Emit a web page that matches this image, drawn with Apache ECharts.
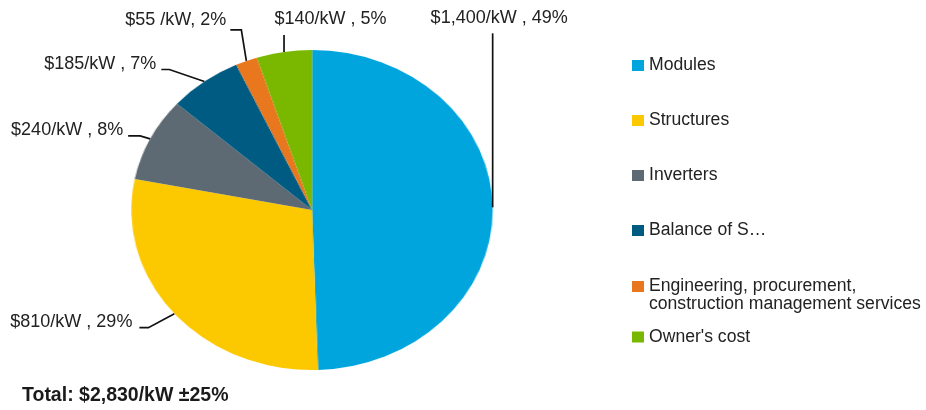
<!DOCTYPE html>
<html>
<head>
<meta charset="utf-8">
<script src="https://cdn.jsdelivr.net/npm/echarts@6/dist/echarts.min.js"></script>
<style>
  html, body { margin: 0; padding: 0; background: #fff; overflow: hidden; }
  #wrap { position: relative; width: 926px; height: 410px; overflow: hidden; }
  /* the pie layer is drawn narrower and stretched horizontally into an ellipse */
  #pieLayer { position: absolute; left: 0; top: 0; width: 820px; height: 410px;
              transform: scaleX(1.129268); transform-origin: 0 0; }
  #textLayer { position: absolute; left: 0; top: 0; width: 926px; height: 410px; }
</style>
</head>
<body>
<div id="wrap">
  <div id="pieLayer"></div>
  <div id="textLayer"></div>
</div>
<script>
// Installed cost breakdown, $/kW
const categories = [
  'Modules',
  'Structures',
  'Inverters',
  'Balance of System',
  'Engineering, procurement, construction management services',
  "Owner's cost"
];
const costPerKw = [1400, 810, 240, 185, 55, 140];
const legendText = [
  'Modules',
  'Structures',
  'Inverters',
  'Balance of S…',
  '\nEngineering, procurement,\nconstruction management services',
  "Owner's cost"
];
const unitText = ['/kW , ', '/kW , ', '/kW , ', '/kW , ', ' /kW, ', '/kW , '];
const sliceColors = ['#00a5de', '#fcc800', '#5d6a73', '#005b82', '#e8771e', '#7ab800'];
const uncertainty = '±25%';

// pie geometry on screen: centre, vertical radius, horizontal stretch
const pieCenter = [312, 210];
const pieRadius = 160;
const stretchX = 926 / 820;

// leader line shape per slice: [elbow dx, elbow dy, tail dx, label dx, label dy, align]
const leaderShape = [
  [0, -174, 0, 6.5, -15, 'center'],
  [-26, 14, -9, -7, -6, 'right'],
  [-10, -3, -12, -5, -6, 'right'],
  [-35, -12, -8, -5, -5, 'right'],
  [-5, -31, -11, -4, -10, 'right'],
  [0, -17, 0, 46.5, -16, 'center']
];

const total = costPerKw.reduce((s, v) => s + v, 0);
const textColor = '#222';
const font = '"Liberation Sans", Arial, sans-serif';

// ---- layer 1: the coloured slices (stretched into an ellipse by CSS) ----
const pieChart = echarts.init(document.getElementById('pieLayer'));
pieChart.setOption({
  animation: false,
  series: [{
    type: 'pie',
    center: [pieCenter[0] / stretchX, pieCenter[1]],
    radius: pieRadius,
    startAngle: 90,
    clockwise: true,
    silent: true,
    label: { show: false },
    labelLine: { show: false },
    data: categories.map((name, i) => ({
      name: name,
      value: costPerKw[i],
      itemStyle: { color: sliceColors[i] }
    }))
  }]
});

// ---- layer 2: value labels, leader lines, legend and total ----
const legendBase = {
  orient: 'vertical',
  left: 632,
  padding: 0,
  itemWidth: 12,
  itemHeight: 11,
  icon: 'rect',
  selectedMode: false,
  formatter: name => legendText[categories.indexOf(name)],
  textStyle: { fontFamily: font, fontSize: 17.6, lineHeight: 18, color: textColor }
};
const legendItems = categories.map((name, i) => ({ name: name, itemStyle: { color: sliceColors[i] } }));

const textChart = echarts.init(document.getElementById('textLayer'));
textChart.setOption({
  animation: false,
  title: {
    text: 'Total: $' + total.toLocaleString('en-US') + '/kW ' + uncertainty,
    left: 22,
    top: 384.5,
    padding: 0,
    textStyle: { fontFamily: font, fontSize: 19.5, fontWeight: 'bold', lineHeight: 22, color: '#1a1a1a' }
  },
  legend: [
    Object.assign({}, legendBase, { top: 56.5, itemGap: 37, data: legendItems.slice(0, 4) }),
    Object.assign({}, legendBase, { top: 259.5, data: legendItems.slice(4, 5) }),
    Object.assign({}, legendBase, { top: 328, data: legendItems.slice(5, 6) })
  ],
  series: [{
    type: 'pie',
    center: pieCenter,
    radius: pieRadius,
    startAngle: 90,
    clockwise: true,
    percentPrecision: 0,
    avoidLabelOverlap: false,
    silent: true,
    itemStyle: { color: 'rgba(0,0,0,0)' },
    data: categories.map((name, i) => ({ name: name, value: costPerKw[i] })),
    label: {
      show: true,
      position: 'outside',
      fontFamily: font,
      fontSize: 18,
      color: textColor,
      formatter: p => '$' + p.value.toLocaleString('en-US') + unitText[p.dataIndex] + p.percent + '%'
    },
    labelLine: {
      show: true,
      length: 10,
      length2: 10,
      lineStyle: { color: '#111', width: 1.7 }
    },
    labelLayout: p => {
      const c = leaderShape[p.dataIndex];
      const edge = (p.labelLinePoints && p.labelLinePoints[0]) || [p.rect.x, p.rect.y];
      // move the edge point from the circle onto the stretched ellipse
      const a = [pieCenter[0] + (edge[0] - pieCenter[0]) * stretchX, edge[1]];
      const elbow = [a[0] + c[0], a[1] + c[1]];
      const tail = [elbow[0] + c[2], elbow[1]];
      return {
        x: tail[0] + c[3],
        y: tail[1] + c[4],
        align: c[5],
        verticalAlign: 'middle',
        labelLinePoints: [a, elbow, tail]
      };
    }
  }]
});
</script>
</body>
</html>
